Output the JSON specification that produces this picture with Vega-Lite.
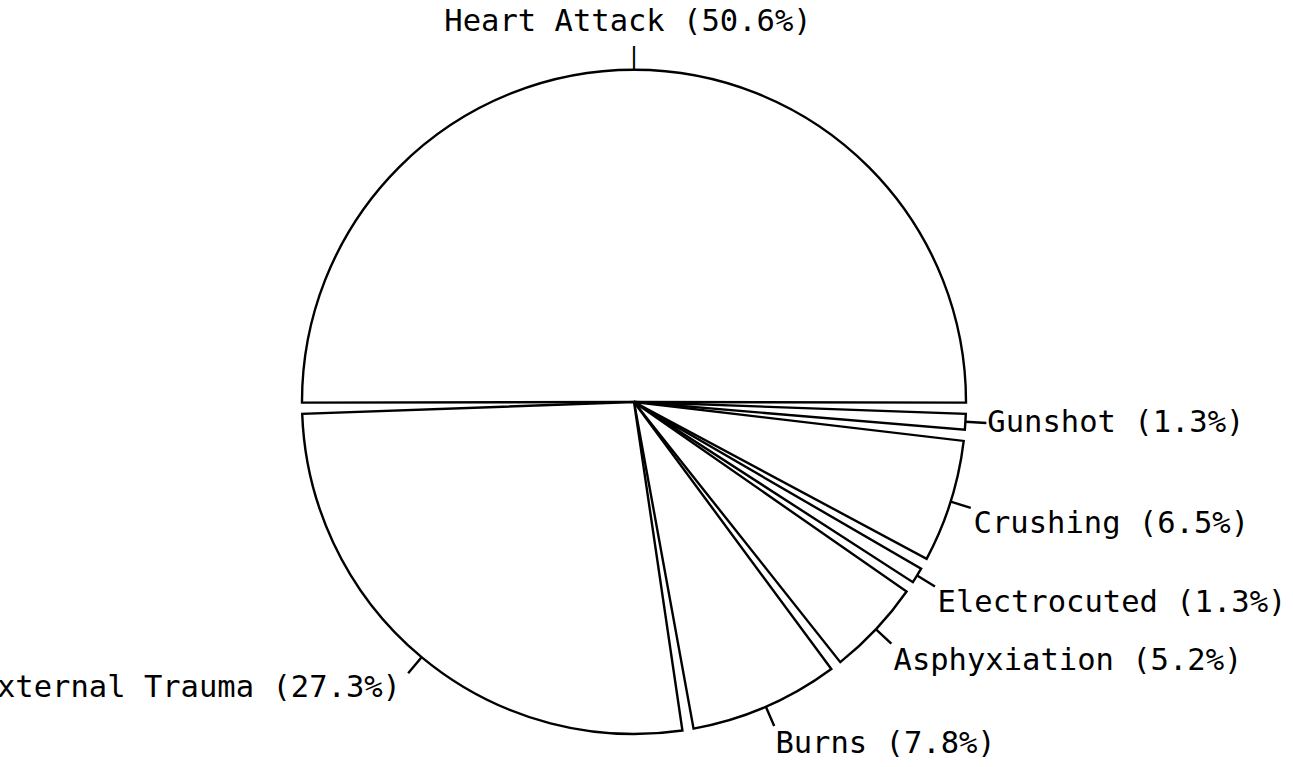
{
  "$schema": "https://vega.github.io/schema/vega-lite/v6.json",
  "width": 1268,
  "height": 730,
  "autosize": {"type": "none"},
  "padding": {"left": 0, "top": 37, "right": 25, "bottom": 0},
  "background": "white",
  "config": {"view": {"stroke": null}},
  "data": {
    "values": [
      {"cause": "Heart Attack", "pct": 50.6, "label": "Heart Attack (50.6%)", "order": 1},
      {"cause": "Gunshot", "pct": 1.3, "label": "Gunshot (1.3%)", "order": 2},
      {"cause": "Crushing", "pct": 6.5, "label": "Crushing (6.5%)", "order": 3},
      {"cause": "Electrocuted", "pct": 1.3, "label": "Electrocuted (1.3%)", "order": 4},
      {"cause": "Asphyxiation", "pct": 5.2, "label": "Asphyxiation (5.2%)", "order": 5},
      {"cause": "Burns", "pct": 7.8, "label": "Burns (7.8%)", "order": 6},
      {"cause": "External Trauma", "pct": 27.3, "label": "External Trauma (27.3%)", "order": 7}
    ]
  },
  "encoding": {
    "theta": {"field": "pct", "type": "quantitative", "stack": true, "scale": {"range": [-1.58965, 4.69354]}},
    "order": {"field": "order", "type": "quantitative"}
  },
  "layer": [
    {
      "mark": {"type": "arc", "radius": 332, "padAngle": 0.034, "fill": "white", "stroke": "black", "strokeWidth": 2.4}
    },
    {
      "mark": {"type": "arc", "radius": 353, "radius2": 332, "padAngle": 2.5, "filled": false, "stroke": "black", "strokeWidth": 2.4},
      "encoding": {"strokeOpacity": {"condition": {"test": "datum.cause === 'Heart Attack'", "value": 0}, "value": 1}}
    },
    {
      "mark": {"type": "text", "radius": 344, "align": "center", "baseline": "middle", "font": "DejaVu Sans Mono", "fontSize": 24, "fill": "black"},
      "encoding": {"text": {"condition": {"test": "datum.cause === 'Heart Attack'", "value": "|"}, "value": ""}}
    },
    {
      "mark": {"type": "text", "radius": 371, "align": "center", "baseline": "alphabetic", "dx": -6, "font": "DejaVu Sans Mono", "fontSize": 30.5, "fill": "black"},
      "encoding": {"text": {"condition": {"test": "datum.cause === 'Heart Attack'", "field": "label", "type": "nominal"}, "value": ""}}
    },
    {
      "mark": {"type": "text", "radius": 354, "align": "left", "baseline": "middle", "font": "DejaVu Sans Mono", "fontSize": 30.5, "fill": "black"},
      "encoding": {"text": {"condition": {"test": "datum.cause === 'Gunshot'", "field": "label", "type": "nominal"}, "value": ""}}
    },
    {
      "mark": {"type": "text", "radius": 356, "align": "left", "baseline": "top", "font": "DejaVu Sans Mono", "fontSize": 30.5, "fill": "black"},
      "encoding": {"text": {"condition": {"test": "indexof(['Crushing','Electrocuted','Asphyxiation','Burns'], datum.cause) >= 0", "field": "label", "type": "nominal"}, "value": ""}}
    },
    {
      "mark": {"type": "text", "radius": 372, "align": "right", "baseline": "middle", "dx": 5, "font": "DejaVu Sans Mono", "fontSize": 30.5, "fill": "black"},
      "encoding": {"text": {"condition": {"test": "datum.cause === 'External Trauma'", "field": "label", "type": "nominal"}, "value": ""}}
    }
  ]
}
